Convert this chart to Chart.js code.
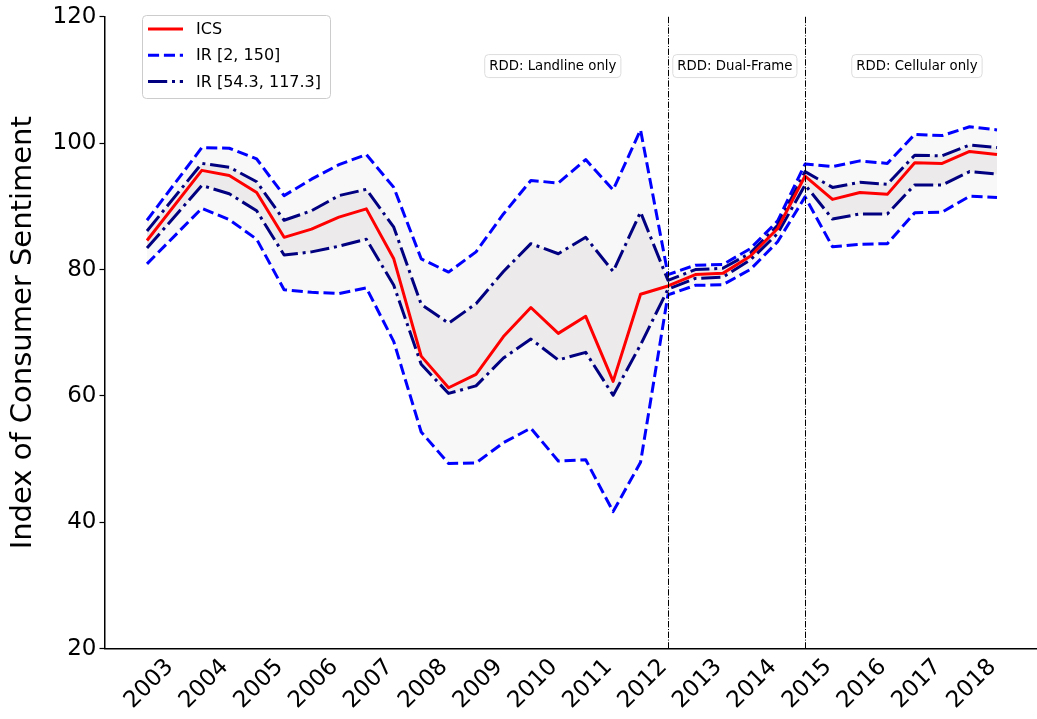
<!DOCTYPE html>
<html>
<head>
<meta charset="utf-8">
<script src="https://cdn.jsdelivr.net/npm/chart.js@4.4.0/dist/chart.umd.min.js"></script>
<style>
  html, body { margin: 0; padding: 0; background: #ffffff; overflow: hidden; }
  #wrap { position: relative; width: 1037px; height: 719px; overflow: hidden; }
  canvas { display: block; }
</style>
</head>
<body>
<div id="wrap"><canvas id="chart" width="1041" height="719"></canvas></div>
<script>
// Survey periods (half-yearly), with the index and its two intervals
const periods = [2003, 2004, 2004.5, 2005, 2005.5, 2006, 2006.5, 2007, 2007.5, 2008, 2008.5,
                 2009, 2009.5, 2010, 2010.5, 2011, 2011.5, 2012, 2012.5, 2013, 2013.5,
                 2014, 2014.5, 2015, 2015.5, 2016, 2016.5, 2017, 2017.5, 2018, 2018.5];

const ics         = [84.6, 95.7, 94.9, 92.2, 85.1, 86.4, 88.3, 89.6, 81.7, 66.3, 61.3,
                     63.4, 69.4, 74.0, 69.9, 72.6, 62.3, 76.1, 77.4, 79.2, 79.4,
                     82.1, 86.5, 94.8, 91.1, 92.2, 91.9, 96.9, 96.8, 98.7, 98.2];

const wideUpper   = [87.8, 99.3, 99.2, 97.5, 91.7, 94.3, 96.6, 98.2, 93.0, 81.7, 79.6,
                     82.8, 88.8, 94.1, 93.7, 97.4, 92.6, 102.1, 79.2, 80.7, 80.8,
                     83.3, 87.7, 96.7, 96.3, 97.2, 96.8, 101.4, 101.2, 102.6, 102.1];

const wideLower   = [80.9, 89.7, 87.9, 84.8, 76.8, 76.4, 76.2, 77.1, 68.6, 54.3, 49.3,
                     49.4, 52.6, 54.9, 49.7, 49.9, 41.7, 49.5, 76.0, 77.5, 77.6,
                     80.0, 84.4, 91.5, 83.6, 84.0, 84.1, 89.0, 89.1, 91.6, 91.4];

const narrowUpper = [86.1, 96.8, 96.2, 93.9, 87.8, 89.3, 91.7, 92.7, 86.7, 74.5, 71.5,
                     74.6, 79.7, 84.1, 82.5, 85.1, 79.7, 89.1, 78.3, 80.0, 80.2,
                     82.6, 87.0, 95.5, 93.0, 93.8, 93.5, 98.1, 98.0, 99.7, 99.3];

const narrowLower = [83.4, 93.3, 92.0, 89.3, 82.3, 82.8, 83.7, 84.8, 77.5, 65.0, 60.4,
                     61.6, 66.0, 69.0, 65.7, 66.9, 60.1, 68.1, 76.9, 78.6, 78.8,
                     81.5, 85.7, 93.4, 88.0, 88.8, 88.8, 93.4, 93.4, 95.5, 95.1];

const yearTicks  = [2003, 2004, 2005, 2006, 2007, 2008, 2009, 2010,
                    2011, 2012, 2013, 2014, 2015, 2016, 2017, 2018];
const valueTicks = [20, 40, 60, 80, 100, 120];

const seriesNames = ['ICS', 'IR [2, 150]', 'IR [54.3, 117.3]'];

// Sampling frame changes and the label placed over each regime
const phaseBreaks = [2012.5, 2015];
const phaseLabels = ['RDD: Landline only', 'RDD: Dual-Frame', 'RDD: Cellular only'];
const phaseLabelX = [2010.4, 2013.72, 2017.04];
const phaseLabelY = 112.2;

// ---- styling ----
const RED = '#ff0000', BLUE = '#0000ff', NAVY = '#000080';
const DASH = [11.1, 4.8];
const DASHDOT = [19.2, 4.8, 3, 4.8];
const BASE_FONT = '"DejaVu Sans", sans-serif';

const toPoints = arr => periods.map((x, i) => ({ x: x, y: arr[i] }));

const lineDefaults = {
  pointRadius: 0, pointHoverRadius: 0, tension: 0,
  borderJoinStyle: 'round', borderCapStyle: 'butt', borderWidth: 3
};

// Dashed vertical lines at the frame changes plus the regime labels
const phasePlugin = {
  id: 'phases',
  afterDatasetsDraw(chart) {
    const { ctx, chartArea, scales } = chart;
    ctx.save();
    ctx.strokeStyle = '#000000';
    ctx.lineWidth = 1;
    ctx.setLineDash([6.4, 1.6, 1, 1.6]);
    phaseBreaks.forEach(v => {
      const px = Math.round(scales.x.getPixelForValue(v)) + 0.5;
      ctx.beginPath();
      ctx.moveTo(px, chartArea.top);
      ctx.lineTo(px, chartArea.bottom);
      ctx.stroke();
    });
    ctx.setLineDash([]);
    ctx.font = '13.3px ' + BASE_FONT;
    ctx.textAlign = 'center';
    ctx.textBaseline = 'middle';
    phaseLabels.forEach((txt, i) => {
      const cx = scales.x.getPixelForValue(phaseLabelX[i]);
      const cy = scales.y.getPixelForValue(phaseLabelY);
      const w = ctx.measureText(txt).width + 9;
      const h = 23;
      ctx.beginPath();
      ctx.roundRect(cx - w / 2, cy - h / 2, w, h, 4);
      ctx.fillStyle = 'rgba(255,255,255,0.9)';
      ctx.fill();
      ctx.strokeStyle = '#dddddd';
      ctx.lineWidth = 1;
      ctx.stroke();
      ctx.fillStyle = '#000000';
      ctx.fillText(txt, cx, cy + 0.5);
    });
    ctx.restore();
  }
};

// Framed legend in the upper left corner of the plot
const legendPlugin = {
  id: 'framedLegend',
  afterDraw(chart) {
    const { ctx } = chart;
    const items = [
      { text: seriesNames[0], color: RED, dash: [] },
      { text: seriesNames[1], color: BLUE, dash: DASH },
      { text: seriesNames[2], color: NAVY, dash: DASHDOT }
    ];
    const bx = 142, by = 15, bw = 188, bh = 83;
    ctx.save();
    ctx.beginPath();
    ctx.roundRect(bx + 0.5, by + 0.5, bw, bh, 4);
    ctx.fillStyle = 'rgba(255,255,255,0.8)';
    ctx.fill();
    ctx.strokeStyle = '#cccccc';
    ctx.lineWidth = 1;
    ctx.stroke();
    ctx.font = '16px ' + BASE_FONT;
    ctx.textBaseline = 'middle';
    ctx.textAlign = 'left';
    items.forEach((it, i) => {
      const y = by + 14 + i * 26.3;
      ctx.beginPath();
      ctx.setLineDash(it.dash);
      ctx.strokeStyle = it.color;
      ctx.lineWidth = 3;
      ctx.lineCap = 'butt';
      ctx.moveTo(bx + 6, y);
      ctx.lineTo(bx + 41, y);
      ctx.stroke();
      ctx.setLineDash([]);
      ctx.fillStyle = '#000000';
      ctx.fillText(it.text, bx + 54, y + 1);
    });
    ctx.restore();
  }
};

new Chart(document.getElementById('chart'), {
  type: 'line',
  data: {
    datasets: [
      Object.assign({ label: seriesNames[0], data: toPoints(ics), borderColor: RED, fill: false }, lineDefaults),
      Object.assign({ label: seriesNames[2], data: toPoints(narrowUpper), borderColor: NAVY,
                      borderDash: DASHDOT, fill: '+1', backgroundColor: '#edeaec' }, lineDefaults),
      Object.assign({ label: seriesNames[2], data: toPoints(narrowLower), borderColor: NAVY,
                      borderDash: DASHDOT, fill: false }, lineDefaults),
      Object.assign({ label: seriesNames[1], data: toPoints(wideUpper), borderColor: BLUE,
                      borderDash: DASH, fill: '+1', backgroundColor: '#f8f8f8' }, lineDefaults),
      Object.assign({ label: seriesNames[1], data: toPoints(wideLower), borderColor: BLUE,
                      borderDash: DASH, fill: false }, lineDefaults)
    ]
  },
  options: {
    responsive: false,
    animation: false,
    devicePixelRatio: 1,
    layout: { padding: { left: 0, top: 13.5, right: 1.5, bottom: 0 } },
    plugins: {
      legend: { display: false },
      tooltip: { enabled: false },
      filler: { drawTime: 'beforeDatasetsDraw' }
    },
    scales: {
      x: {
        type: 'linear',
        min: 2002.225,
        max: 2019.275,
        afterBuildTicks: s => { s.ticks = yearTicks.map(v => ({ value: v })); },
        afterFit: s => { s.height = 70.3; },
        grid: { display: false, drawTicks: false },
        border: { display: true, color: '#000000', width: 1.5 },
        ticks: {
          autoSkip: false,
          minRotation: 45,
          maxRotation: 45,
          padding: 5,
          labelOffset: 23,
          color: '#000000',
          font: { family: BASE_FONT, size: 23 },
          callback: v => String(v)
        }
      },
      y: {
        min: 20,
        max: 120,
        afterBuildTicks: s => { s.ticks = valueTicks.map(v => ({ value: v })); },
        afterFit: s => { s.width = 104.5; },
        grid: { display: true, drawOnChartArea: false, drawTicks: true, tickLength: 5,
                tickColor: '#000000', tickWidth: 1.2 },
        border: { display: true, color: '#000000', width: 1.5 },
        ticks: {
          padding: 3,
          color: '#000000',
          font: { family: BASE_FONT, size: 23 },
          callback: v => String(v)
        },
        title: {
          display: true,
          text: 'Index of Consumer Sentiment',
          color: '#000000',
          font: { family: BASE_FONT, size: 29, lineHeight: 1 },
          padding: { top: 9, bottom: 0 }
        }
      }
    }
  },
  plugins: [phasePlugin, legendPlugin]
});
</script>
</body>
</html>
